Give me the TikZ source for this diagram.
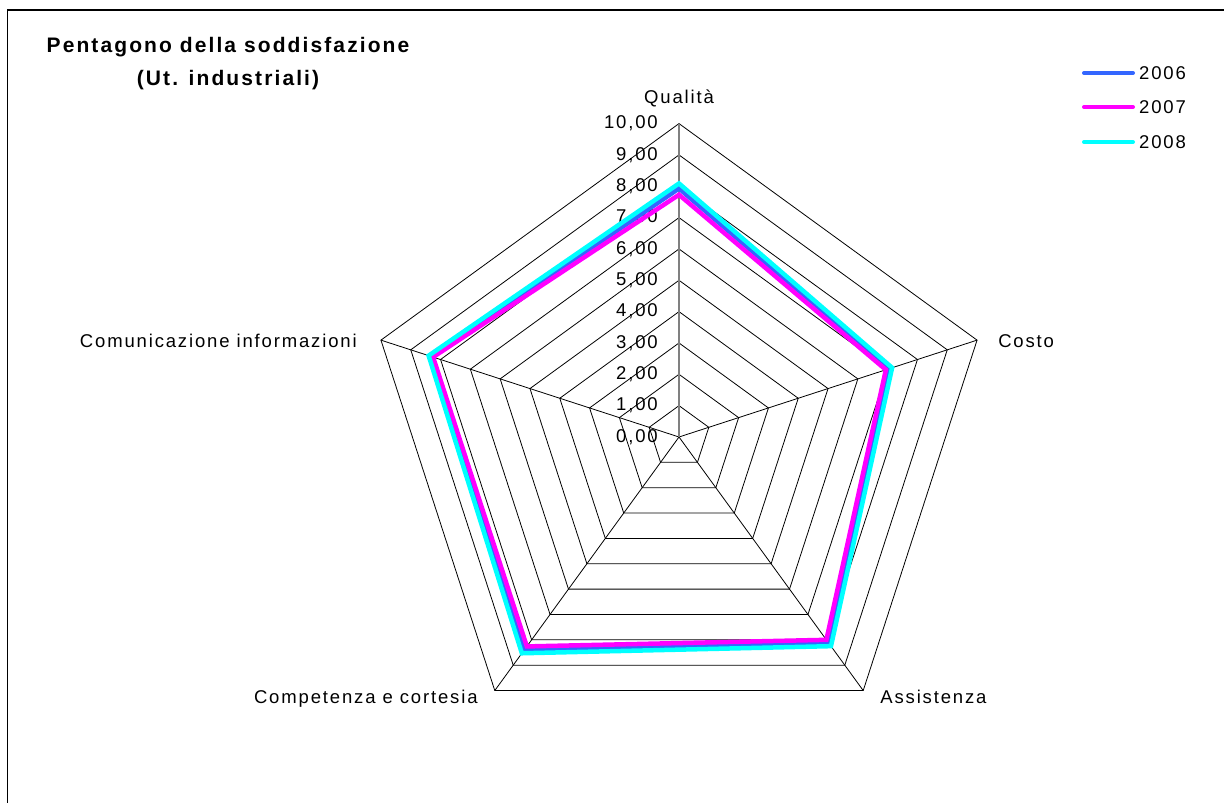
\documentclass[tikz,border=0pt]{standalone}
\usepackage{fontspec}
\setmainfont{Liberation Sans}[LetterSpace=10]
\definecolor{serieA}{RGB}{51,102,255}
\definecolor{serieB}{RGB}{255,0,255}
\definecolor{serieC}{RGB}{0,255,255}

\tikzset{
  griglia/.style={black, line width=0.8pt},
  asse/.style={gray, line width=1.6pt},
  serie/.style={line width=4.5pt, line join=miter},
  legenda/.style={line width=4pt, line cap=round},
  etichetta/.style={font=\fontsize{18.5}{22}\selectfont, inner sep=0pt},
}

\begin{document}
\begin{tikzpicture}[x=1pt,y=1pt]
\useasboundingbox (0,0) rectangle (1224,803);
\draw[line width=1.2pt] (7.5,0) -- (7.5,793) -- (1224,793);

\def\r{31.34}
\coordinate (O) at (679,366);
\foreach \a [count=\i] in {90,18,-54,-126,162}
  \coordinate (v\i) at ([shift={(\a:10*\r)}]O);

\foreach \k in {1,...,10}
  \draw[griglia] ([shift={(90:\k*\r)}]O) -- ([shift={(18:\k*\r)}]O)
    -- ([shift={(-54:\k*\r)}]O) -- ([shift={(-126:\k*\r)}]O)
    -- ([shift={(162:\k*\r)}]O) -- cycle;
\foreach \i in {2,...,5}
  \draw[griglia] (O) -- (v\i);
\draw[asse] (O) -- (v1);

\foreach \k in {0,...,10}
  \node[etichetta, anchor=east] (t\k) at (658,366+\k*\r) {\k,00};

\foreach \col/\q/\c/\as/\cp/\cm in {serieA/7.93/7.05/8.10/8.40/8.30,
    serieB/7.73/6.94/8.00/8.26/8.25, serieC/8.09/7.15/8.25/8.53/8.40}
  \draw[serie, \col] ([shift={(90:\q*\r)}]O) -- ([shift={(18:\c*\r)}]O)
    -- ([shift={(-54:\as*\r)}]O) -- ([shift={(-126:\cp*\r)}]O)
    -- ([shift={(162:\cm*\r)}]O) -- cycle;

\node[etichetta, anchor=base] (qualita) at ([yshift=20pt]v1) {Qualità};
\node[etichetta, anchor=base west] (costo) at ([shift={(21pt,-7pt)}]v2) {Costo};
\node[etichetta, anchor=base west] (assistenza) at ([shift={(17pt,-13pt)}]v3) {Assistenza};
\node[etichetta, anchor=base east] (competenza) at ([shift={(-17pt,-13pt)}]v4) {Competenza e cortesia};
\node[etichetta, anchor=base east] (comunicazione) at ([shift={(-24pt,-7pt)}]v5) {Comunicazione informazioni};

\node[etichetta, font=\bfseries\fontsize{21}{33}\selectfont, align=center] (titolo)
  at (228,739) {Pentagono della soddisfazione\\(Ut. industriali)};

\node[etichetta, anchor=west] (a2006) at (1139,730) {2006};
\node[etichetta, anchor=west] (a2007) at (1139,696) {2007};
\node[etichetta, anchor=west] (a2008) at (1139,661) {2008};
\draw[legenda, serieA] (a2006.west) ++(-6pt,0) -- ++(-49pt,0);
\draw[legenda, serieB] (a2007.west) ++(-6pt,0) -- ++(-49pt,0);
\draw[legenda, serieC] (a2008.west) ++(-6pt,0) -- ++(-49pt,0);

\end{tikzpicture}
\end{document}
